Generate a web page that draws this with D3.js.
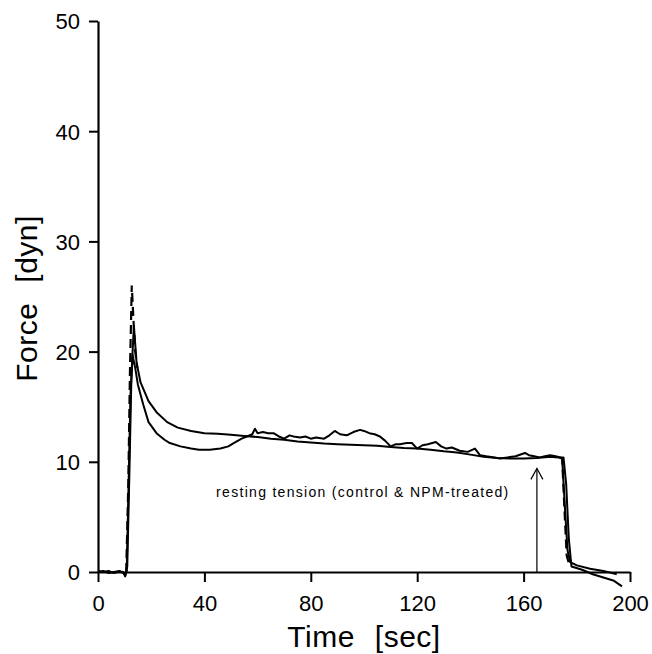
<!DOCTYPE html>
<html>
<head>
<meta charset="utf-8">
<script src="https://cdn.jsdelivr.net/npm/d3@7/dist/d3.min.js"></script>
<style>
  html, body { margin: 0; padding: 0; background: #fff; }
  svg { display: block; }
  text { font-family: "Liberation Sans", Arial, sans-serif; fill: #000; }
</style>
</head>
<body>
<svg id="chart" width="652" height="654"></svg>
<script>
// ---- data ----
const xTicks = [0, 40, 80, 120, 160, 200];
const yTicks = [0, 10, 20, 30, 40, 50];

// smooth trace (upper after the peak, lower on the plateau)
const smoothTime = [0, 2, 4, 6, 8, 9.5, 10.2, 10.8, 11.5, 12.2, 13.0, 13.5, 14.5, 16, 19, 22, 26, 30, 35, 40, 45, 50, 55, 60, 65, 70, 75, 80, 85, 90, 95, 100, 105, 110, 115, 120, 125, 130, 135, 140, 145, 150, 155, 160, 165, 170, 173, 174.5, 175.5, 176.5, 177.5, 180, 185, 190, 195];
const smoothForce = [0.1, 0.0, 0.1, -0.1, 0.05, 0.0, -0.4, 0.2, 8, 16, 20, 22.3, 19, 17.2, 15.5, 14.5, 13.6, 13.1, 12.8, 12.6, 12.55, 12.45, 12.35, 12.25, 12.1, 12.0, 11.85, 11.75, 11.65, 11.6, 11.55, 11.5, 11.45, 11.35, 11.25, 11.2, 11.1, 10.95, 10.85, 10.65, 10.45, 10.35, 10.3, 10.3, 10.35, 10.45, 10.4, 10.3, 6, 2, 0.9, 0.6, 0.3, 0.1, -0.2];

// fluctuating trace (lower after the peak, upper on the plateau)
const noisyTime = [0, 2, 4, 6, 8, 9.5, 10.3, 11, 11.8, 12.5, 13, 14, 15, 17, 19, 22, 25, 27, 31, 35, 38, 42, 46, 49, 51, 54, 56, 58, 59, 60, 62, 64, 66, 68, 70, 72, 73.5, 76, 78, 80, 82, 85, 87, 89, 91, 93.5, 96, 98.5, 100, 102, 104, 106, 108, 110, 112, 113.5, 116, 118, 120, 122, 124, 127, 129, 131, 133, 136, 139, 141.7, 143.6, 146, 149, 151, 154, 157, 160.5, 162, 164, 166, 168, 170, 172, 174, 175, 176, 177, 178, 182, 186, 190, 194, 197];
const noisyForce = [0, 0.1, -0.1, 0, 0.1, -0.1, -0.3, 0.5, 9, 17, 19.7, 18.5, 17, 15.2, 13.6, 12.6, 12, 11.7, 11.4, 11.2, 11.1, 11.1, 11.2, 11.4, 11.7, 12.1, 12.3, 12.5, 13.0, 12.6, 12.7, 12.6, 12.6, 12.3, 12.1, 12.4, 12.3, 12.2, 12.3, 12.1, 12.2, 12.1, 12.4, 12.8, 12.5, 12.4, 12.7, 12.9, 12.8, 12.6, 12.5, 12.3, 11.9, 11.4, 11.6, 11.6, 11.7, 11.7, 11.2, 11.5, 11.6, 11.8, 11.4, 11.2, 11.3, 11.0, 10.9, 11.2, 10.6, 10.5, 10.4, 10.3, 10.4, 10.5, 10.8, 10.6, 10.5, 10.4, 10.5, 10.6, 10.5, 10.4, 10.4, 8, 3, 0.5, 0.2, -0.2, -0.5, -0.8, -1.3];

// dashed trace (visible only at the initial spike and at the release)
const dashedTime = [10.6, 11.4, 12.0, 12.7, 13.3, 14.0, 14.8, null, 173.5, 174.5, 175.3, 176.2, 177.0];
const dashedForce = [0, 8, 18, 26, 23, 20, 18.5, null, 10.4, 10.3, 6, 1.5, 0.8];

const annotationText = "resting tension (control & NPM-treated)";
const annotationX = 44.4, annotationY = 6.8;
const arrowX = 165, arrowFrom = 0, arrowTo = 9.4;

// ---- drawing ----
const svg = d3.select("#chart");
const x = d3.scaleLinear().domain([0, 200]).range([98, 630]);
const y = d3.scaleLinear().domain([0, 50]).range([572, 21]);

const xAxis = svg.append("g").attr("transform", `translate(0,${y(0)})`)
  .call(d3.axisBottom(x).tickValues(xTicks).tickSize(10).tickSizeOuter(0).tickPadding(8));
const yAxis = svg.append("g").attr("transform", `translate(${x(0)},0)`)
  .call(d3.axisLeft(y).tickValues(yTicks).tickSize(9).tickSizeOuter(0).tickPadding(9));

[xAxis, yAxis].forEach(g => {
  g.select(".domain").attr("stroke", "#000").attr("stroke-width", 2.2);
  g.selectAll(".tick line").attr("stroke", "#000").attr("stroke-width", 2);
  g.selectAll(".tick text").style("font-size", "22px").style("font-family", "'Liberation Sans', Arial, sans-serif").attr("fill", "#000");
});
xAxis.selectAll(".tick text").attr("dy", "0.95em");
yAxis.selectAll(".tick text").attr("dy", "0.36em");

function toPts(ts, fs) { return ts.map((t, i) => [t, fs[i]]); }
const line = d3.line().defined(d => d[0] !== null && d[1] !== null).x(d => x(d[0])).y(d => y(d[1]));

svg.append("path").datum(toPts(smoothTime, smoothForce))
  .attr("d", line).attr("fill", "none").attr("stroke", "#000").attr("stroke-width", 2).attr("stroke-linejoin", "round");
svg.append("path").datum(toPts(noisyTime, noisyForce))
  .attr("d", line).attr("fill", "none").attr("stroke", "#000").attr("stroke-width", 2).attr("stroke-linejoin", "round");
svg.append("path").datum(toPts(dashedTime, dashedForce))
  .attr("d", line).attr("fill", "none").attr("stroke", "#000").attr("stroke-width", 2.2).attr("stroke-dasharray", "9,5");

// arrow
svg.append("line")
  .attr("x1", x(arrowX)).attr("x2", x(arrowX))
  .attr("y1", y(arrowFrom)).attr("y2", y(arrowTo))
  .attr("stroke", "#000").attr("stroke-width", 1.2);
svg.append("path")
  .attr("d", `M${x(arrowX) - 6},${y(arrowTo) + 11} L${x(arrowX)},${y(arrowTo)} L${x(arrowX) + 6},${y(arrowTo) + 11}`)
  .attr("fill", "none").attr("stroke", "#000").attr("stroke-width", 1.2);

svg.append("text")
  .attr("x", x(annotationX)).attr("y", y(annotationY))
  .style("font-size", "14px").style("letter-spacing", "1.3px")
  .text(annotationText);

// axis titles
const xt = svg.append("text")
  .attr("x", (x(0) + x(200)) / 2).attr("y", 647)
  .attr("text-anchor", "middle").style("font-size", "30px").style("letter-spacing", "0.5px");
xt.append("tspan").text("Time");
xt.append("tspan").attr("dx", 20).text("[sec]");

const yt = svg.append("text")
  .attr("transform", `translate(37,${(y(0) + y(50)) / 2 + 2}) rotate(-90)`)
  .attr("text-anchor", "middle").style("font-size", "30px").style("letter-spacing", "0.5px");
yt.append("tspan").text("Force");
yt.append("tspan").attr("dx", 20).text("[dyn]");
</script>
</body>
</html>
